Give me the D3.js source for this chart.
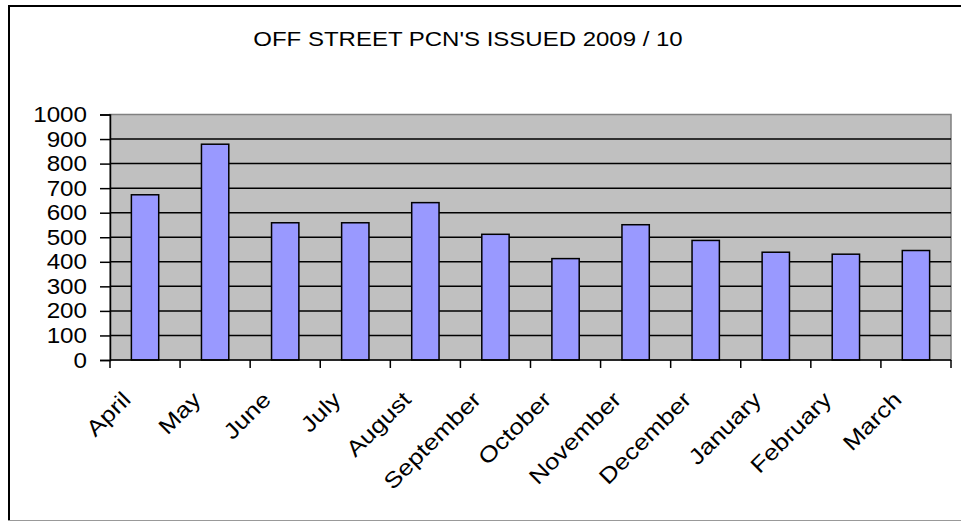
<!DOCTYPE html>
<html>
<head>
<meta charset="utf-8">
<script src="https://cdn.jsdelivr.net/npm/d3@7"></script>
<style>
  body { margin: 0; background: #fff; }
  text { font-family: Arial, "Liberation Sans", sans-serif; fill: #000; }
</style>
</head>
<body>
<div id="chart"></div>
<script>
const months = ["April", "May", "June", "July", "August", "September",
    "October", "November", "December", "January", "February", "March"];
const issued = [673, 879, 559, 559, 641, 512, 413, 551, 487, 439, 431, 446];
const yTicks = [0, 100, 200, 300, 400, 500, 600, 700, 800, 900, 1000];
const title = "OFF STREET PCN'S ISSUED 2009 / 10";

const width = 961, height = 521;
const plot = {left: 110, right: 951, top: 114.5, bottom: 360};

const svg = d3.select("#chart").append("svg")
    .attr("width", width)
    .attr("height", height);

// outer chart frame (right side runs off the page)
svg.append("line").attr("x1", 8).attr("x2", width).attr("y1", 6).attr("y2", 6)
    .attr("stroke", "#000").attr("stroke-width", 2);
svg.append("line").attr("x1", 9).attr("x2", 9).attr("y1", 5).attr("y2", 521)
    .attr("stroke", "#000").attr("stroke-width", 2);
svg.append("line").attr("x1", 8).attr("x2", width).attr("y1", 520.5).attr("y2", 520.5)
    .attr("stroke", "#999").attr("stroke-width", 1);

// the original text is drawn a bit wide, hence the scaleX
svg.append("text")
    .attr("transform", "translate(468,46) scale(1.2,1)")
    .attr("text-anchor", "middle")
    .style("font-size", "20px")
    .text(title);

const x = d3.scaleBand()
    .domain(months)
    .range([plot.left, plot.right])
    .paddingInner(0.61)
    .paddingOuter(0.305);

const y = d3.scaleLinear()
    .domain([0, 1000])
    .range([plot.bottom, plot.top]);

svg.append("rect")
    .attr("x", plot.left)
    .attr("y", plot.top)
    .attr("width", plot.right - plot.left)
    .attr("height", plot.bottom - plot.top)
    .attr("fill", "#c0c0c0")
    .attr("stroke", "#808080")
    .attr("stroke-width", 1.5);

svg.selectAll(".grid")
    .data(yTicks.slice(1, -1))
    .enter()
    .append("line")
    .attr("class", "grid")
    .attr("x1", plot.left)
    .attr("x2", plot.right)
    .attr("y1", d => y(d))
    .attr("y2", d => y(d))
    .attr("stroke", "#000")
    .attr("stroke-width", 1.5);

svg.selectAll(".bar")
    .data(issued)
    .enter()
    .append("rect")
    .attr("class", "bar")
    .attr("x", (d, i) => x(months[i]))
    .attr("width", x.bandwidth())
    .attr("y", d => y(d))
    .attr("height", d => y(0) - y(d))
    .attr("fill", "#9999ff")
    .attr("stroke", "#000")
    .attr("stroke-width", 1.5);

// y axis
const yAxis = svg.append("g")
    .attr("transform", `translate(${plot.left},0)`)
    .call(d3.axisLeft(y).tickValues(yTicks).tickSize(10).tickFormat(d3.format("d")));
yAxis.select(".domain").attr("stroke-width", 1.5);
yAxis.selectAll(".tick line").attr("stroke-width", 1.5);
yAxis.selectAll("text")
    .attr("x", null)
    .attr("transform", "translate(-23,0) scale(1.1,1)")
    .style("font-size", "22px")
    .attr("font-family", null);

// x axis: ticks at category boundaries
const step = x.step();
const boundaries = d3.range(months.length + 1).map(i => plot.left + i * step);
svg.append("line")
    .attr("x1", plot.left).attr("x2", plot.right)
    .attr("y1", plot.bottom).attr("y2", plot.bottom)
    .attr("stroke", "#000").attr("stroke-width", 1.5);
svg.selectAll(".xtick")
    .data(boundaries)
    .enter()
    .append("line")
    .attr("class", "xtick")
    .attr("x1", d => d).attr("x2", d => d)
    .attr("y1", plot.bottom).attr("y2", plot.bottom + 8)
    .attr("stroke", "#000").attr("stroke-width", 1.5);

svg.selectAll(".xlabel")
    .data(months)
    .enter()
    .append("text")
    .attr("class", "xlabel")
    .attr("text-anchor", "end")
    .attr("transform", d => `translate(${x(d) + x.bandwidth() / 2 - 13},${plot.bottom + 41}) rotate(-45) scale(1.18,1)`)
    .style("font-size", "22px")
    .text(d => d);
</script>
</body>
</html>
